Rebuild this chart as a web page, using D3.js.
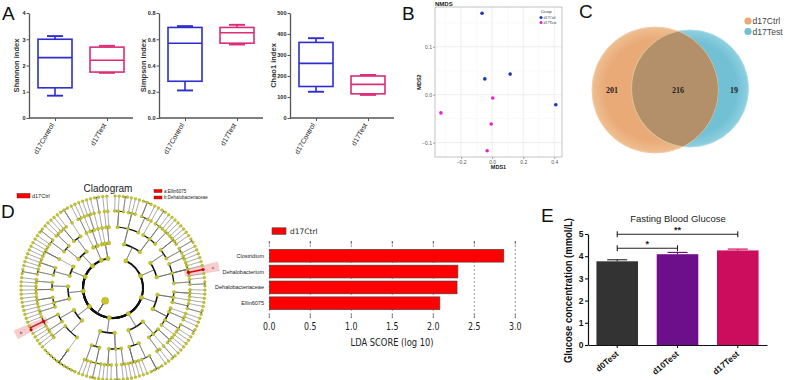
<!DOCTYPE html>
<html>
<head>
<meta charset="utf-8">
<script src="https://cdn.jsdelivr.net/npm/d3@7"></script>
<style>
body { margin: 0; background: #fff; }
svg { display: block; font-family: "Liberation Sans", Arial, sans-serif; }
</style>
</head>
<body>
<div id="fig"></div>
<script>
// ---- panel A : alpha diversity boxes ----
var alphaGroups = ["d17Control", "d17Test"];
var shannonStats = [
  {min: 0.85, q1: 1.15, med: 2.3, q3: 3.0, max: 3.12},
  {min: 1.72, q1: 1.75, med: 2.2, q3: 2.7, max: 2.75}];
var simpsonStats = [
  {min: 0.21, q1: 0.28, med: 0.57, q3: 0.69, max: 0.70},
  {min: 0.56, q1: 0.57, med: 0.65, q3: 0.69, max: 0.71}];
var chao1Stats = [
  {min: 125, q1: 150, med: 260, q3: 360, max: 380},
  {min: 110, q1: 115, med: 160, q3: 200, max: 205}];
var shannonTicks = [0, 1, 2, 3, 4];
var simpsonTicks = [0, 0.2, 0.4, 0.6, 0.8];
var chao1Ticks = [0, 100, 200, 300, 400, 500];

// ---- panel B : NMDS ----
var nmdsGroups = ["d17Ctrl", "d17Test"];
var nmdsCtrl = [[-0.065, 0.170], [-0.047, 0.033], [0.116, 0.043], [0.41, -0.021]];
var nmdsTest = [[0.004, -0.007], [-0.33, -0.038], [-0.006, -0.061], [-0.032, -0.117]];
var nmdsXTicks = [-0.2, 0, 0.2, 0.4];
var nmdsYTicks = [-0.1, 0, 0.1];

// ---- panel C : venn ----
var vennSets = ["d17Ctrl", "d17Test"];
var vennCounts = [201, 216, 19];   // only ctrl, shared, only test

// ---- panel D : LEfSe ----
var ldaTaxa = ["Clostridium", "Dehalobacterium", "Dehalobacteriaceae", "Ellin6075"];
var ldaScores = [2.86, 2.30, 2.29, 2.08];
var ldaTicks = [0, 0.5, 1, 1.5, 2, 2.5, 3];
var cladeKeys = ["a:Ellin6075", "b:Dehalobacteriaceae"];
// phylum > class > order > family (number = genera in it)
var cladeTree = [
  [[[1, 1, 2], [1, 1, 1], [3, 1]], [[1], [2, 1, 1], [1, 1]]],
  [[[1, 1, 1, 1], [2, 1]], [[1, 1], [1, 1, 1, {clade: "a", n: 1}, 1], [1, 2]]],
  [[[1, 1, 1], [1], [1, 2]], [[1], [1, 1], [2, 1, 1], [1]]],
  [[[1, 1, 1], [2], [1, 1]], [[4, 1], [1, 1, 1, 1]]],
  [[[1, 1], [2], [1, 1, 1]], [[1, 2, 1], [1, 1]]],
  [[[10], [1, 1]], [[1, 1], [1, {clade: "b", n: 2}, 1]]],
  [[[1, 1], [1], [1, 1, 1]], [[1, 1, 1], [1, 1]]],
  [[[2, 1], [1, 1, 1]], [[1, 1, 1, 1]]],
  [[[1, 2], [1, 1]], [[1, 1, 1], [3]]],
  [[[1, 1]], [[1], [1, 1]]],
  [[[1]], [[2]], [[1], [1]]]
];

// ---- panel E : fasting glucose ----
var fbgGroups = ["d0Test", "d10Test", "d17Test"];
var fbgMeans = [3.77, 4.09, 4.26];
var fbgErr = [0.07, 0.08, 0.06];
var fbgColors = ["#333333", "#6d0f8a", "#cc0c5c"];
var fbgSig = [{from: 0, to: 1, label: "*"}, {from: 0, to: 2, label: "**"}];

var W = 785, H = 380;
var svg = d3.select("#fig").append("svg").attr("width", W).attr("height", H);
svg.append("rect").attr("width", W).attr("height", H).attr("fill", "#fff");

function panelLetter(t, x, y) {
  svg.append("text").attr("x", x).attr("y", y).attr("font-size", 19)
    .attr("fill", "#111").text(t);
}

// ================= A =================
var blue = "#2e2ed0", pink = "#dc2c78";

function boxPanel(x0, x1, stats, ticks, title, fmt, titleOff) {
  var yTop = 13, yBot = 118;
  var g = svg.append("g");
  var y = d3.scaleLinear().domain([0, ticks[ticks.length - 1]]).range([yBot, yTop]);
  var x = d3.scalePoint().domain(alphaGroups).range([x0, x1]).padding(0.5);
  var bw = 34;

  var ya = g.append("g").attr("transform", "translate(" + x0 + ",0)")
    .call(d3.axisLeft(y).tickValues(ticks).tickFormat(fmt).tickSize(2.5).tickSizeOuter(0));
  var xa = g.append("g").attr("transform", "translate(0," + yBot + ")")
    .call(d3.axisBottom(x).tickSize(3).tickSizeOuter(0));
  xa.select(".domain").attr("d", "M" + x0 + ",0H" + x1);
  [ya, xa].forEach(function(a) {
    a.select(".domain").attr("stroke", "#555").attr("stroke-width", 1.3);
    a.selectAll(".tick line").attr("stroke", "#555").attr("stroke-width", 1);
    a.selectAll("text").attr("fill", "#222").attr("font-weight", "bold")
      .attr("font-family", "Liberation Sans, Arial, sans-serif");
  });
  ya.selectAll("text").attr("font-size", 5.5).attr("x", -3.5);
  xa.selectAll("text").attr("font-size", 7).attr("font-weight", "normal")
    .attr("text-anchor", "end").attr("dy", 0).attr("y", 0)
    .attr("transform", "translate(-1,7) rotate(-60)");

  g.append("text").attr("transform", "translate(" + (x0 - titleOff) + "," + ((yTop + yBot) / 2) + ") rotate(-90)")
    .attr("text-anchor", "middle").attr("font-size", 7.5).attr("font-weight", "bold")
    .attr("fill", "#333").text(title);

  stats.forEach(function(s, i) {
    var cx = x(alphaGroups[i]), col = i === 0 ? blue : pink;
    var bg = g.append("g").attr("stroke", col).attr("fill", "none").attr("stroke-width", 1.6);
    bg.append("line").attr("x1", cx).attr("x2", cx).attr("y1", y(s.max)).attr("y2", y(s.q3));
    bg.append("line").attr("x1", cx).attr("x2", cx).attr("y1", y(s.q1)).attr("y2", y(s.min));
    bg.append("line").attr("x1", cx - 8).attr("x2", cx + 8).attr("y1", y(s.max)).attr("y2", y(s.max)).attr("stroke-width", 1.9);
    bg.append("line").attr("x1", cx - 8).attr("x2", cx + 8).attr("y1", y(s.min)).attr("y2", y(s.min)).attr("stroke-width", 1.9);
    bg.append("rect").attr("x", cx - bw / 2).attr("width", bw)
      .attr("y", y(s.q3)).attr("height", y(s.q1) - y(s.q3)).attr("fill", "#fff");
    bg.append("line").attr("x1", cx - bw / 2).attr("x2", cx + bw / 2).attr("y1", y(s.med)).attr("y2", y(s.med));
  });
}

panelLetter("A", 2, 20);
boxPanel(29, 133, shannonStats, shannonTicks, "Shannon index", d3.format("d"), 10);
boxPanel(159, 263, simpsonStats, simpsonTicks, "Simpson index", d3.format(".1f"), 13);
boxPanel(290, 394, chao1Stats, chao1Ticks, "Chao1 index", d3.format("d"), 14);

// ================= B =================
panelLetter("B", 402, 20);
(function() {
  var L = 435, R = 562, T = 7, B = 157;
  var g = svg.append("g");
  var x = d3.scaleLinear().domain([-0.368, 0.45]).range([L, R]);
  var y = d3.scaleLinear().domain([-0.13, 0.183]).range([B, T]);
  var minorX = [-0.3, -0.1, 0.1, 0.3], minorY = [-0.05, 0.05, 0.15];
  g.selectAll(".mx").data(minorX).enter().append("line")
    .attr("x1", x).attr("x2", x).attr("y1", T).attr("y2", B).attr("stroke", "#f4f4f4").attr("stroke-width", 0.5);
  g.selectAll(".my").data(minorY).enter().append("line")
    .attr("y1", y).attr("y2", y).attr("x1", L).attr("x2", R).attr("stroke", "#f4f4f4").attr("stroke-width", 0.5);
  g.selectAll(".gx").data(nmdsXTicks).enter().append("line")
    .attr("x1", x).attr("x2", x).attr("y1", T).attr("y2", B).attr("stroke", "#e8e8e8").attr("stroke-width", 0.8);
  g.selectAll(".gy").data(nmdsYTicks).enter().append("line")
    .attr("y1", y).attr("y2", y).attr("x1", L).attr("x2", R).attr("stroke", "#e8e8e8").attr("stroke-width", 0.8);
  g.append("rect").attr("x", L).attr("y", T).attr("width", R - L).attr("height", B - T)
    .attr("fill", "none").attr("stroke", "#999").attr("stroke-width", 0.6);

  var fmt = function(v) { return d3.format(".1f")(v).replace("-", "\u2212"); };
  var xa = g.append("g").attr("transform", "translate(0," + B + ")")
    .call(d3.axisBottom(x).tickValues(nmdsXTicks).tickFormat(fmt).tickSize(2).tickSizeOuter(0));
  var ya = g.append("g").attr("transform", "translate(" + L + ",0)")
    .call(d3.axisLeft(y).tickValues(nmdsYTicks).tickFormat(fmt).tickSize(2).tickSizeOuter(0));
  [xa, ya].forEach(function(a) {
    a.select(".domain").remove();
    a.selectAll(".tick line").attr("stroke", "#555").attr("stroke-width", 0.5);
    a.selectAll("text").attr("font-size", 5).attr("fill", "#555")
      .attr("font-family", "Liberation Sans, Arial, sans-serif");
  });
  xa.selectAll("text").attr("dy", "0.9em").attr("y", 2);
  ya.selectAll("text").attr("x", -3);

  g.append("text").attr("x", (L + R) / 2).attr("y", 169).attr("text-anchor", "middle")
    .attr("font-size", 5.5).attr("font-weight", "bold").attr("fill", "#222").text("MDS1");
  g.append("text").attr("transform", "translate(421," + ((T + B) / 2) + ") rotate(-90)")
    .attr("text-anchor", "middle").attr("font-size", 5.5).attr("font-weight", "bold").attr("fill", "#222").text("MDS2");
  g.append("text").attr("x", L).attr("y", 5.5).attr("font-size", 6).attr("font-weight", "bold")
    .attr("fill", "#222").text("NMDS");

  var cols = ["#1c36b4", "#f01ec8"];
  [nmdsCtrl, nmdsTest].forEach(function(pts, k) {
    g.selectAll(".p" + k).data(pts).enter().append("circle")
      .attr("cx", function(d) { return x(d[0]); }).attr("cy", function(d) { return y(d[1]); })
      .attr("r", 1.8).attr("fill", cols[k]);
  });
  var lg = g.append("g").attr("font-family", "Liberation Serif, serif").attr("fill", "#333");
  lg.append("text").attr("x", 541).attr("y", 12.5).attr("font-size", 4.2).text("Group");
  nmdsGroups.forEach(function(n, k) {
    lg.append("circle").attr("cx", 541).attr("cy", 17.5 + k * 5).attr("r", 1.5).attr("fill", cols[k]);
    lg.append("text").attr("x", 543.5).attr("y", 19 + k * 5).attr("font-size", 4).text(n);
  });
})();

// ================= C =================
panelLetter("C", 579, 18);
(function() {
  var g = svg.append("g");
  var c1 = {x: 655, y: 90, r: 63}, c2 = {x: 690, y: 88.5, r: 58.5};
  var defs = svg.append("defs");
  defs.append("clipPath").attr("id", "clipL").append("circle")
    .attr("cx", c1.x).attr("cy", c1.y).attr("r", c1.r);
  var gr1 = defs.append("radialGradient").attr("id", "gOr");
  gr1.append("stop").attr("offset", "80%").attr("stop-color", "#e9aa78");
  gr1.append("stop").attr("offset", "100%").attr("stop-color", "#efbf91");
  var gr2 = defs.append("radialGradient").attr("id", "gTe");
  gr2.append("stop").attr("offset", "80%").attr("stop-color", "#72c0d4");
  gr2.append("stop").attr("offset", "100%").attr("stop-color", "#8fd0e0");

  g.append("circle").attr("cx", c2.x).attr("cy", c2.y).attr("r", c2.r)
    .attr("fill", "url(#gTe)").attr("stroke", "#a9dcea").attr("stroke-width", 1);
  g.append("circle").attr("cx", c1.x).attr("cy", c1.y).attr("r", c1.r)
    .attr("fill", "url(#gOr)").attr("stroke", "#f3cca6").attr("stroke-width", 1);
  g.append("circle").attr("cx", c2.x).attr("cy", c2.y).attr("r", c2.r)
    .attr("clip-path", "url(#clipL)").attr("fill", "#b4906a").attr("stroke", "#d9c191").attr("stroke-width", 1.2);

  var tx = [612, 678, 734];
  vennCounts.forEach(function(v, i) {
    g.append("text").attr("x", tx[i]).attr("y", 93).attr("text-anchor", "middle")
      .attr("font-family", "Liberation Serif, serif").attr("font-weight", "bold")
      .attr("font-size", 8).attr("fill", "#222").text(v);
  });
  var lc = ["#e9aa78", "#72c0d4"];
  vennSets.forEach(function(n, i) {
    g.append("circle").attr("cx", 748).attr("cy", 21 + i * 10.5).attr("r", 3.6).attr("fill", lc[i]);
    g.append("text").attr("x", 752.5).attr("y", 24 + i * 10.5).attr("font-size", 8.6)
      .attr("fill", "#444").text(n);
  });
})();

// ================= D : cladogram =================
panelLetter("D", 1, 218);
(function() {
  var cx = 113, cy = 288;
  var radii = [15, 30, 45, 61, 77, 92];
  var g = svg.append("g").attr("transform", "translate(" + cx + "," + cy + ")");
  var root = d3.hierarchy({kids: cladeTree}, function(d) {
    if (d.kids) return d.kids.map(function(k) { return typeof k === "object" && !Array.isArray(k) ? k : {kids: Array.isArray(k) ? k : null, n: k}; });
    if (d.clade) return d3.range(d.n).map(function(i) { return {hl: i === 0 ? d.clade : null}; });
    if (typeof d.n === "number") return d3.range(d.n).map(function() { return {}; });
    return null;
  });
  var nLeaves = root.leaves().length;
  d3.cluster().size([2 * Math.PI * (1 - 1 / nLeaves), 1]).separation(function() { return 1; })(root);

  function pt(a, r) { return [r * Math.sin(a), -r * Math.cos(a)]; }
  function rad(d) { return radii[d.depth]; }

  // highlight shading behind
  root.descendants().filter(function(d) { return d.data.clade; }).forEach(function(d) {
    var span = 0.045;
    var arc = d3.arc().innerRadius(rad(d) - 4).outerRadius(108)
      .startAngle(d.x - span).endAngle(d.x + span);
    g.append("path").attr("d", arc()).attr("fill", "#f6c4c4").attr("opacity", 0.85);
    var p = pt(d.x, 102);
    g.append("text").attr("x", p[0]).attr("y", p[1] + 1.5).attr("text-anchor", "middle")
      .attr("font-size", 4).attr("fill", "#333").text(d.data.clade);
  });

  // radial stems at parent angle, arcs on the child ring
  var arcW = [2.0, 1.6, 1.3, 1.0, 0.8];
  root.links().forEach(function(l) {
    var p = l.source, c = l.target, rp = rad(p), rc = rad(c);
    var red = c.data.hl;
    g.append("path").attr("d", "M" + pt(p.x, rp) + "L" + pt(p.x, rc))
      .attr("fill", "none").attr("stroke", red ? "#e00000" : "#666").attr("stroke-width", red ? 1.4 : 0.55);
    if (Math.abs(c.x - p.x) > 1e-6) {
      var sweep = c.x > p.x ? 1 : 0, large = Math.abs(c.x - p.x) > Math.PI ? 1 : 0;
      g.append("path").attr("d", "M" + pt(p.x, rc) + "A" + rc + "," + rc + " 0 " + large + " " + sweep + " " + pt(c.x, rc))
        .attr("fill", "none").attr("stroke", red ? "#e00000" : "#111").attr("stroke-width", arcW[p.depth]);
    }
  });

  var nodeR = [3.6, 2.2, 1.9, 1.7, 1.5, 1.4];
  root.descendants().forEach(function(d) {
    var p = pt(d.x, rad(d));
    var red = d.data.clade || d.data.hl;
    g.append("circle").attr("cx", p[0]).attr("cy", p[1]).attr("r", nodeR[d.depth])
      .attr("fill", red ? "#e00000" : "#c6c626").attr("stroke", red ? "#900" : "#8c8c1c")
      .attr("stroke-width", 0.3);
  });

  svg.append("text").attr("x", 108).attr("y", 192).attr("text-anchor", "middle")
    .attr("font-size", 10).attr("fill", "#222").text("Cladogram");
  svg.append("rect").attr("x", 17).attr("y", 193.5).attr("width", 13).attr("height", 4.5)
    .attr("fill", "#f00").attr("stroke", "#600").attr("stroke-width", 0.4);
  svg.append("text").attr("x", 32).attr("y", 198).attr("font-size", 5.5).attr("fill", "#222").text("d17Ctrl");
  cladeKeys.forEach(function(k, i) {
    svg.append("rect").attr("x", 154).attr("y", 189.5 + i * 6.5).attr("width", 8).attr("height", 3)
      .attr("fill", "#f00").attr("stroke", "#600").attr("stroke-width", 0.4);
    svg.append("text").attr("x", 164).attr("y", 192.8 + i * 6.5).attr("font-size", 4.5)
      .attr("fill", "#222").text(k);
  });
})();

// ================= D : LDA bars =================
(function() {
  var x = d3.scaleLinear().domain([0, 3]).range([269.3, 515.3]);
  var y = d3.scaleBand().domain(ldaTaxa).range([248.5, 310.5]).paddingInner(0.19).paddingOuter(0.05);
  var g = svg.append("g");
  g.selectAll(".grid").data(ldaTicks).enter().append("line")
    .attr("x1", x).attr("x2", x).attr("y1", 241).attr("y2", 318)
    .attr("stroke", "#333").attr("stroke-width", 0.5).attr("stroke-dasharray", "2,2");
  g.selectAll(".tt").data(ldaTicks).enter().append("line")
    .attr("x1", x).attr("x2", x).attr("y1", 241).attr("y2", 244.5).attr("stroke", "#333").attr("stroke-width", 0.6);
  g.selectAll(".tb").data(ldaTicks).enter().append("line")
    .attr("x1", x).attr("x2", x).attr("y1", 314.5).attr("y2", 318).attr("stroke", "#333").attr("stroke-width", 0.6);
  g.selectAll(".bar").data(ldaScores).enter().append("rect")
    .attr("x", x(0)).attr("y", function(d, i) { return y(ldaTaxa[i]); })
    .attr("width", function(d) { return x(d) - x(0); }).attr("height", y.bandwidth())
    .attr("fill", "#ff0000").attr("stroke", "#444").attr("stroke-width", 0.6);
  g.selectAll(".lab").data(ldaTaxa).enter().append("text")
    .attr("x", 264).attr("y", function(d) { return y(d) + y.bandwidth() / 2 + 2; })
    .attr("text-anchor", "end").attr("font-size", 5.5).attr("fill", "#222").text(function(d) { return d; });
  g.selectAll(".tl").data(ldaTicks).enter().append("text")
    .attr("x", x).attr("y", 330).attr("text-anchor", "middle").attr("font-size", 10)
    .attr("font-family", "DejaVu Sans, sans-serif").attr("fill", "#222")
    .attr("textLength", 12.5).attr("lengthAdjust", "spacingAndGlyphs")
    .text(d3.format(".1f"));
  g.append("text").attr("x", 392).attr("y", 345.5).attr("text-anchor", "middle").attr("font-size", 10.5)
    .attr("font-family", "DejaVu Sans, sans-serif").attr("fill", "#222")
    .attr("textLength", 83).attr("lengthAdjust", "spacingAndGlyphs").text("LDA SCORE (log 10)");
  g.append("rect").attr("x", 272).attr("y", 227.8).attr("width", 14).attr("height", 6.5)
    .attr("fill", "#ff0000").attr("stroke", "#444").attr("stroke-width", 0.6);
  g.append("text").attr("x", 290).attr("y", 234).attr("font-size", 7.5).attr("fill", "#222")
    .attr("font-family", "DejaVu Sans, sans-serif").text("d17Ctrl");
})();

// ================= E =================
panelLetter("E", 541, 222);
(function() {
  var L = 588, R = 767, T = 234, B = 345;
  var g = svg.append("g");
  var x = d3.scaleBand().domain(fbgGroups).range([L, R]).paddingInner(0.31).paddingOuter(0.14);
  var y = d3.scaleLinear().domain([0, 5]).range([B, T]);

  g.selectAll(".bar").data(fbgMeans).enter().append("rect")
    .attr("x", function(d, i) { return x(fbgGroups[i]); }).attr("width", x.bandwidth())
    .attr("y", function(d) { return y(d); }).attr("height", function(d) { return B - y(d); })
    .attr("fill", function(d, i) { return fbgColors[i]; });
  fbgMeans.forEach(function(m, i) {
    var cx = x(fbgGroups[i]) + x.bandwidth() / 2, col = fbgColors[i];
    g.append("line").attr("x1", cx).attr("x2", cx).attr("y1", y(m)).attr("y2", y(m + fbgErr[i]))
      .attr("stroke", col).attr("stroke-width", 1.2);
    g.append("line").attr("x1", cx - 10).attr("x2", cx + 10).attr("y1", y(m + fbgErr[i])).attr("y2", y(m + fbgErr[i]))
      .attr("stroke", col).attr("stroke-width", 1.2);
  });

  var ya = g.append("g").attr("transform", "translate(" + L + ",0)")
    .call(d3.axisLeft(y).ticks(5).tickSize(3).tickSizeOuter(0));
  var xa = g.append("g").attr("transform", "translate(0," + B + ")")
    .call(d3.axisBottom(x).tickSize(3).tickSizeOuter(0));
  [ya, xa].forEach(function(a) {
    a.select(".domain").attr("stroke", "#111").attr("stroke-width", 1.2);
    a.selectAll(".tick line").attr("stroke", "#111").attr("stroke-width", 1.1);
    a.selectAll("text").attr("font-size", 8.5).attr("font-weight", "bold").attr("fill", "#111")
      .attr("font-family", "Liberation Sans, Arial, sans-serif");
  });
  ya.selectAll("text").attr("x", -4.5);
  xa.selectAll("text").attr("text-anchor", "end").attr("dy", 0).attr("y", 0)
    .attr("transform", "translate(2,10) rotate(-40)");

  g.append("text").attr("transform", "translate(572,290.5) rotate(-90)").attr("text-anchor", "middle")
    .attr("font-size", 10).attr("font-weight", "bold").attr("fill", "#111")
    .attr("textLength", 145).attr("lengthAdjust", "spacingAndGlyphs")
    .text("Glucose concentration (mmol/L)");
  g.append("text").attr("x", 678).attr("y", 222).attr("text-anchor", "middle").attr("font-size", 9.5)
    .attr("fill", "#222").text("Fasting Blood Glucose");

  var sigY = [248.3, 234.3];
  fbgSig.forEach(function(s, k) {
    var x1 = x(fbgGroups[s.from]) + x.bandwidth() / 2, x2 = x(fbgGroups[s.to]) + x.bandwidth() / 2;
    var yy = sigY[k];
    g.append("path").attr("d", "M" + x1 + "," + (yy - 3) + "V" + (yy + 3) + "M" + x1 + "," + yy + "H" + x2 + "M" + x2 + "," + (yy - 3) + "V" + (yy + 3))
      .attr("fill", "none").attr("stroke", "#222").attr("stroke-width", 1.1);
    g.append("text").attr("x", (x1 + x2) / 2).attr("y", yy - 1.5).attr("text-anchor", "middle")
      .attr("font-size", 9).attr("font-weight", "bold").attr("fill", "#222").text(s.label);
  });
})();
</script>
</body>
</html>
